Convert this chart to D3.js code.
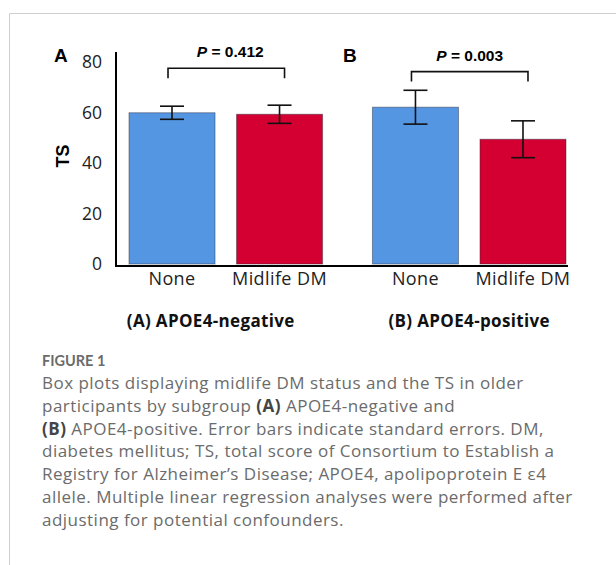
<!DOCTYPE html>
<html lang="en">
<head>
<meta charset="utf-8" />
<title>Figure 1</title>
<style>
	body { margin: 0; padding: 0; background: #fff; }
	svg { display: block; }
</style>
<script src="https://cdnjs.cloudflare.com/ajax/libs/d3/7.8.5/d3.min.js"></script>
</head>
<body>
<div id="chart"></div>
<script>
// data
const panels = ["A", "B"];
const panelTitles = ["(A) APOE4-negative", "(B) APOE4-positive"];
const categories = ["None", "Midlife DM"];
const means = [[59.9, 59.3], [62.1, 49.4]];
const errors = [[2.6, 3.6], [6.7, 7.3]];
const pValues = ["0.412", "0.003"];
const bracketLevels = [77.5, 76.2];
const yTicks = [0, 20, 40, 60, 80];
const colors = ["#5596e3", "#d50032"];

const captionTitle = "FIGURE 1";
// each line is a list of [text, bold]
const captionLines = [
	[["Box plots displaying midlife DM status and the TS in older", false]],
	[["participants by subgroup ", false], ["(A)", true], [" APOE4-negative and", false]],
	[["(B)", true], [" APOE4-positive. Error bars indicate standard errors. DM,", false]],
	[["diabetes mellitus; TS, total score of Consortium to Establish a", false]],
	[["Registry for Alzheimer\u2019s Disease; APOE4, apolipoprotein E \u03b54", false]],
	[["allele. Multiple linear regression analyses were performed after", false]],
	[["adjusting for potential confounders.", false]]
];

const W = 616, H = 565;
const chartFont = "'Open Sans', sans-serif";
const svg = d3.select("#chart").append("svg")
	.attr("width", W).attr("height", H);

// outer frame (top + left rule)
svg.append("path")
	.attr("d", `M9.5,${H} V13.5 H${W}`)
	.attr("fill", "none").attr("stroke", "#cfcfcf").attr("stroke-width", 1);

const y = d3.scaleLinear().domain([0, 80]).range([264, 62]);
const xPanel = d3.scaleBand().domain(panels).range([129, 566]).paddingInner(0.205);
const xCat = d3.scaleBand().domain(categories).range([0, xPanel.bandwidth()]).paddingInner(0.2);

const axisX0 = 116, axisY0 = 266;

// y axis
const yAxis = svg.append("g")
	.attr("transform", `translate(${axisX0},0)`)
	.call(d3.axisLeft(y).tickValues(yTicks).tickSize(0).tickPadding(14));
yAxis.select(".domain").remove();
yAxis.selectAll("text")
	.attr("font-family", chartFont)
	.attr("font-size", 17.5)
	.attr("fill", "#222");

svg.append("line")
	.attr("x1", axisX0).attr("x2", axisX0)
	.attr("y1", 52).attr("y2", axisY0 + 1)
	.attr("stroke", "#000").attr("stroke-width", 2);
svg.append("line")
	.attr("x1", axisX0 - 1).attr("x2", xPanel("B") + xPanel.bandwidth() + 2)
	.attr("y1", axisY0).attr("y2", axisY0)
	.attr("stroke", "#000").attr("stroke-width", 2);

svg.append("text")
	.attr("transform", `translate(69,156) rotate(-90)`)
	.attr("text-anchor", "middle")
	.attr("font-family", "'Liberation Sans', Arial, sans-serif")
	.attr("font-weight", "bold")
	.attr("font-size", 18)
	.text("TS");

panels.forEach(function(p, pi) {
	const g = svg.append("g").attr("transform", `translate(${xPanel(p)},0)`);
	const cx = c => xCat(c) + xCat.bandwidth() / 2;

	g.selectAll("rect")
		.data(categories)
		.enter()
		.append("rect")
		.attr("x", c => xCat(c))
		.attr("width", xCat.bandwidth())
		.attr("y", (c, i) => y(means[pi][i]))
		.attr("height", (c, i) => y(0) - y(means[pi][i]))
		.attr("fill", (c, i) => colors[i])
		.attr("stroke", "rgba(40,40,60,0.45)")
		.attr("stroke-width", 1);

	// error bars
	categories.forEach(function(c, i) {
		const hi = y(means[pi][i] + errors[pi][i]);
		const lo = y(means[pi][i] - errors[pi][i]);
		const eb = g.append("g").attr("stroke", "#111").attr("stroke-width", 1.6);
		eb.append("line").attr("x1", cx(c)).attr("x2", cx(c)).attr("y1", hi).attr("y2", lo);
		eb.append("line").attr("x1", cx(c) - 12).attr("x2", cx(c) + 12).attr("y1", hi).attr("y2", hi);
		eb.append("line").attr("x1", cx(c) - 12).attr("x2", cx(c) + 12).attr("y1", lo).attr("y2", lo);
	});

	// category labels
	g.selectAll("text.cat")
		.data(categories)
		.enter()
		.append("text")
		.attr("class", "cat")
		.attr("x", c => cx(c))
		.attr("y", 285)
		.attr("text-anchor", "middle")
		.attr("font-family", chartFont)
		.attr("font-size", 18)
		.attr("letter-spacing", 0.4)
		.attr("fill", "#222")
		.text(c => c);

	// significance bracket
	const bx1 = cx(categories[0]) - 4, bx2 = cx(categories[1]) + 5;
	const by = y(bracketLevels[pi]);
	g.append("path")
		.attr("d", `M${bx1},${by + 10} V${by} H${bx2} V${by + 10}`)
		.attr("fill", "none").attr("stroke", "#111").attr("stroke-width", 1.6);
	const pt = g.append("text")
		.attr("x", (bx1 + bx2) / 2 + (pi === 0 ? 4 : 0))
		.attr("y", by - 11)
		.attr("text-anchor", "middle")
		.attr("font-family", "'Liberation Sans', Arial, sans-serif")
		.attr("font-weight", "bold")
		.attr("font-size", 15.5);
	pt.append("tspan").attr("font-style", "italic").text("P");
	pt.append("tspan").text(" = " + pValues[pi]);

	// panel letter
	svg.append("text")
		.attr("x", pi === 0 ? 54 : 343)
		.attr("y", 62)
		.attr("font-family", "'Liberation Sans', Arial, sans-serif")
		.attr("font-weight", "bold")
		.attr("font-size", 19)
		.text(p);

	// panel subtitle
	svg.append("text")
		.attr("x", xPanel(p) + xPanel.bandwidth() / 2 + (pi === 0 ? -15 : 0))
		.attr("y", 327)
		.attr("text-anchor", "middle")
		.attr("font-family", chartFont)
		.attr("font-weight", "bold")
		.attr("font-size", 17)
		.attr("letter-spacing", 0.35)
		.attr("fill", "#111")
		.text(panelTitles[pi]);
});

// caption
svg.append("text")
	.attr("x", 42).attr("y", 366)
	.attr("font-family", "Lato, sans-serif")
	.attr("font-weight", "bold")
	.attr("font-size", 14.5)
	.attr("fill", "#6b6b6b")
	.text(captionTitle);

const cap = svg.append("text")
	.attr("font-family", chartFont)
	.attr("font-size", 17)
	.attr("letter-spacing", 0.48)
	.attr("fill", "#6b6b6b");
captionLines.forEach(function(line, li) {
	line.forEach(function(seg, si) {
		const t = cap.append("tspan").text(seg[0]);
		if (si === 0) t.attr("x", 42).attr("y", 389 + li * 22.8);
		if (seg[1]) t.attr("font-weight", "bold").attr("fill", "#444");
	});
});
</script>
</body>
</html>
